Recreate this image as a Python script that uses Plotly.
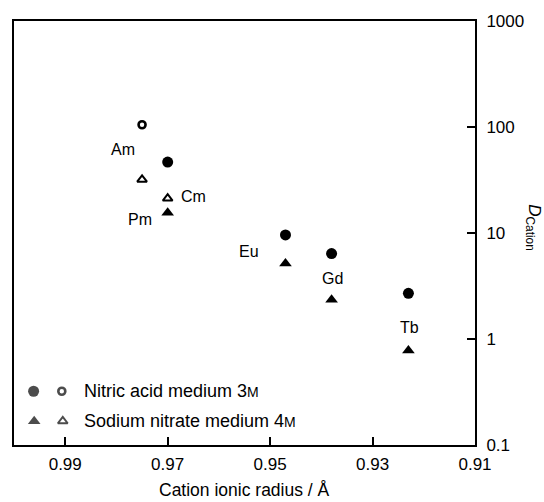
import math
import plotly.graph_objects as go

# ---- data ----
nitric_filled_radius = [0.970, 0.947, 0.938, 0.923]
nitric_filled_D = [46.7, 9.6, 6.4, 2.7]
nitric_open_radius = [0.975]
nitric_open_D = [105]

sodium_filled_radius = [0.970, 0.947, 0.938, 0.923]
sodium_filled_D = [15.5, 5.15, 2.35, 0.78]
sodium_open_radius = [0.975, 0.970]
sodium_open_D = [31.9, 21.2]

element_names = ["Am", "Cm", "Pm", "Eu", "Gd", "Tb"]
element_radius = [0.975, 0.970, 0.970, 0.947, 0.938, 0.923]
element_D = [105, 21.2, 15.5, 5.15, 2.35, 0.78]

x_ticks = [0.99, 0.97, 0.95, 0.93, 0.91]
y_ticks = [0.1, 1, 10, 100, 1000]
y_ticktext = ["0.1", "1", "10", "100", "1000"]

legend_labels = ["Nitric acid medium 3<span style='font-size:14px'>M</span>",
                 "Sodium nitrate medium 4<span style='font-size:14px'>M</span>"]

FONT = "Arial, Liberation Sans, Helvetica, sans-serif"
BLACK = "#000000"

fig = go.Figure()

fig.add_trace(go.Scatter(x=nitric_filled_radius, y=nitric_filled_D, mode="markers",
                         marker=dict(symbol="circle", size=11, color=BLACK), showlegend=False))
fig.add_trace(go.Scatter(x=nitric_open_radius, y=nitric_open_D, mode="markers",
                         marker=dict(symbol="circle-open", size=7, color=BLACK,
                                     line=dict(width=2.6, color=BLACK)), showlegend=False))
fig.add_trace(go.Scatter(x=sodium_filled_radius, y=sodium_filled_D, mode="markers",
                         marker=dict(symbol="triangle-up", size=11, color=BLACK), showlegend=False))
fig.add_trace(go.Scatter(x=sodium_open_radius, y=sodium_open_D, mode="markers",
                         marker=dict(symbol="triangle-up-open", size=8.5, color=BLACK,
                                     line=dict(width=2, color=BLACK)), showlegend=False))

# legend keys on an overlay axis (0..1 over the plot area)
fig.add_trace(go.Scatter(x=[0.0425, 0.1037], y=[0.1268, 0.1268], mode="markers", xaxis="x2", yaxis="y2",
                         marker=dict(symbol=["circle", "circle-open"], size=[11, 7], color=BLACK,
                                     line=dict(width=[0, 2.6], color=BLACK)), showlegend=False))
fig.add_trace(go.Scatter(x=[0.0438, 0.1058], y=[0.0563, 0.0563], mode="markers", xaxis="x2", yaxis="y2",
                         marker=dict(symbol=["triangle-up", "triangle-up-open"], size=[11, 8.5], color=BLACK,
                                     line=dict(width=[0, 2], color=BLACK)), showlegend=False))

for i, lab in enumerate(legend_labels):
    fig.add_annotation(x=0.148, y=[0.1268, 0.0563][i], xref="x2", yref="y2", text=lab,
                       showarrow=False, xanchor="left", yanchor="middle",
                       font=dict(family=FONT, size=18, color=BLACK))

# element labels (offset in pixels from their points)
label_shifts = {"Am": (-19, -25), "Cm": (26, 2), "Pm": (-28, -7),
                "Eu": (-36, 12), "Gd": (1, 21), "Tb": (1, 23)}
for name, rx, dval in zip(element_names, element_radius, element_D):
    dx, dy = label_shifts[name]
    fig.add_annotation(x=rx, y=math.log10(dval), xref="x", yref="y", text=name,
                       showarrow=False, xshift=dx, yshift=dy,
                       font=dict(family=FONT, size=16, color=BLACK))

# axis titles
fig.add_annotation(x=0.5, y=-0.1338, xref="paper", yref="paper", yanchor="bottom",
                   text="Cation ionic radius / Å", showarrow=False,
                   font=dict(family=FONT, size=17.5, color=BLACK))
fig.add_annotation(x=1.127, y=1.05, xref="paper", yref="y", xanchor="center", yanchor="middle",
                   text="<i>D</i><sub>Cation</sub>", showarrow=False, textangle=90,
                   font=dict(family=FONT, size=17, color=BLACK))

fig.update_layout(
    width=544, height=502,
    margin=dict(l=12, r=69, t=19, b=57),
    plot_bgcolor="white", paper_bgcolor="white",
    font=dict(family=FONT, size=17, color=BLACK),
    xaxis=dict(range=[1.0, 0.91], tickvals=x_ticks, ticktext=[f"{v:.2f}" for v in x_ticks],
               ticks="inside", ticklen=8, tickwidth=1.5, tickcolor=BLACK,
               showline=True, linecolor=BLACK, linewidth=2, mirror=True,
               showgrid=False, zeroline=False, ticklabelstandoff=3,
               tickfont=dict(family=FONT, size=17, color=BLACK)),
    yaxis=dict(type="log", range=[-1, 3], side="right", tickvals=y_ticks, ticktext=y_ticktext,
               ticks="inside", ticklen=8, tickwidth=1.5, tickcolor=BLACK,
               showline=True, linecolor=BLACK, linewidth=2, mirror=True,
               showgrid=False, zeroline=False, ticklabelstandoff=6,
               tickfont=dict(family=FONT, size=17, color=BLACK)),
    xaxis2=dict(range=[0, 1], overlaying="x", visible=False),
    yaxis2=dict(range=[0, 1], overlaying="y", visible=False),
)

fig.write_html("out.html", config={"displayModeBar": False},
               post_script="document.body.style.margin='0';document.body.style.padding='0';")
